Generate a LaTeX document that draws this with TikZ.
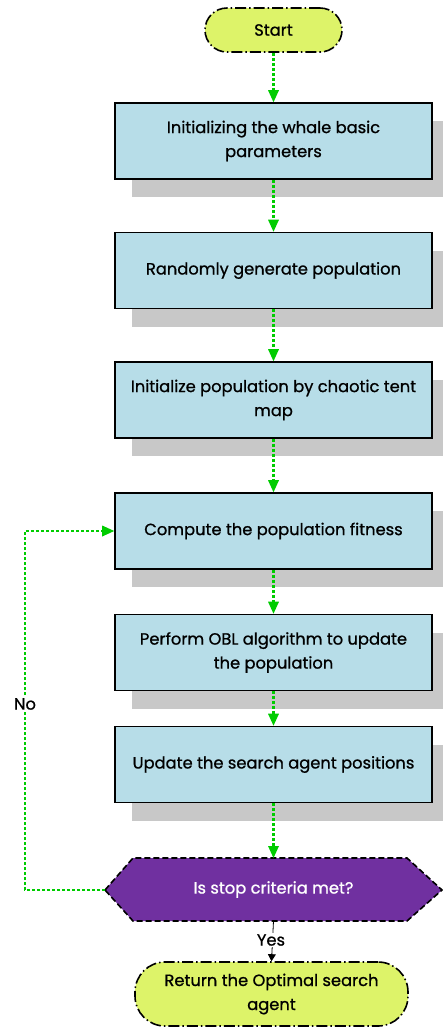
\documentclass[tikz,border=0pt]{standalone}
\usepackage{fontspec}
\setmainfont{Poppins}[FakeBold=0.9]
\usetikzlibrary{arrows.meta,shadows,shapes.geometric}
\definecolor{boxblue}{RGB}{183,221,232}
\definecolor{shadowgray}{RGB}{200,200,200}
\definecolor{termyellow}{RGB}{221,243,105}
\definecolor{hexpurple}{RGB}{112,48,160}
\definecolor{flowgreen}{RGB}{0,204,0}
\tikzset{
  x=1pt,y=-1pt,
  every node/.style={font=\fontsize{16.3}{24}\selectfont},
  procbox/.style={draw=black,line width=1.6pt,fill=boxblue,minimum width=317pt,minimum height=76pt,inner sep=0pt,align=center,
    general shadow={fill=shadowgray,shadow xshift=17pt,shadow yshift=-18pt}},
  termbox/.style={draw=black,line width=1.6pt,fill=termyellow,rounded corners=#1,inner sep=0pt,align=center,
    dash pattern=on 11pt off 3pt on 1.5pt off 3pt},
  flow/.style={draw=flowgreen,line width=2.2pt,dash pattern=on 3pt off 2pt,-{Triangle[length=12pt,width=11pt,fill=flowgreen,line width=0pt]}},
}
\begin{document}
\begin{tikzpicture}
\clip (0,0) rectangle (443,1029);
\fill[white] (0,0) rectangle (443,1029);
\node[termbox=22pt,minimum width=137pt,minimum height=44pt] (start) at (273.5,30) {Start};
\node[procbox] (b1) at (273.5,141) {Initializing the whale basic\\parameters};
\node[procbox] (b2) at (273.5,270.5) {Randomly generate population};
\node[procbox] (b3) at (273.5,400) {Initialize population by chaotic tent\\map};
\node[procbox] (b4) at (273.5,531) {Compute the population fitness};
\node[procbox] (b5) at (273.5,652.5) {Perform OBL algorithm to update\\the population};
\node[procbox] (b6) at (273.5,764.5) {Update the search agent positions};
\draw[draw=black,line width=1.6pt,fill=hexpurple,dash pattern=on 6pt off 3pt]
  (105,890) coordinate (hl) -- (133,858) -- (407,858) -- (442,890) -- (407,921) -- (133,921) -- cycle;
\node[text=white] (dec) at (273.5,889.5) {Is stop criteria met?};
\coordinate (dtop) at (273.5,858);
\coordinate (dbot) at (273.5,921);
\node[termbox=30pt,minimum width=273pt,minimum height=64pt] (ret) at (271.5,994) {Return the Optimal search\\agent};
\draw[flow] (start) -- (b1);
\draw[flow] (b1) -- (b2);
\draw[flow] (b2) -- (b3);
\draw[flow] (b3) -- (b4);
\draw[flow] (b4) -- (b5);
\draw[flow] (b5) -- (b6);
\draw[flow] (b6) -- (dtop);
\coordinate (lb) at (25,890);
\coordinate (lt) at (25,531);
\draw[flow] (hl) -- (lb) -- (lt) -- (b4.west);
\node[fill=white,inner sep=2pt] (no) at (25,704) {No};
\draw[black,line width=0.8pt,-{Triangle[length=7pt,width=8pt]}] (dbot) -- (ret.north);
\node[fill=white,inner sep=1pt] (yes) at (271,940) {Yes};
\end{tikzpicture}
\end{document}
